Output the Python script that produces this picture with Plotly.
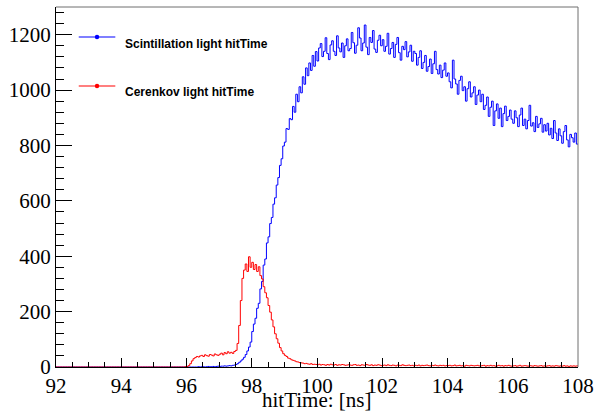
import numpy as np
import plotly.graph_objects as go

# Histogram binning (92..108 ns, 0.05 ns bins)
BIN_START = 92.0
BIN_WIDTH = 0.05

# Scintillation light hitTime counts, one row per ns (20 bins each)
scint_counts = [
    # 92
    0,0,0,0,0,0,0,0,0,0,0,0,0,0,0,0,0,0,0,0,
    # 93
    0,0,0,0,0,0,0,0,0,0,0,0,0,0,0,0,0,0,0,0,
    # 94
    0,0,0,0,0,0,0,0,0,0,0,0,0,0,0,0,0,0,0,0,
    # 95
    0,0,0,0,0,0,0,0,0,0,0,0,0,0,0,0,0,0,0,0,
    # 96
    0,0,0,0,0,0,0,1,0,1,1,0,1,2,1,1,2,1,2,3,
    # 97
    2,3,3,4,3,4,5,4,6,7,9,12,17,22,28,35,45,58,72,90,
    # 98
    128,155,176,212,230,282,309,368,390,448,470,518,540,588,611,657,684,728,752,798,
    # 99
    812,861,858,897,893,941,920,985,958,1012,990,1048,1021,1080,1052,1098,1071,1125,1086,1139,
    # 100
    1105,1152,1168,1121,1140,1189,1132,1110,1163,1178,1140,1125,1196,1152,1138,1170,1118,1160,1185,1142,
    # 101
    1150,1208,1171,1133,1162,1225,1188,1142,1170,1235,1155,1128,1190,1172,1215,1148,1136,1180,1198,1160,
    # 102
    1182,1140,1158,1205,1130,1150,1172,1118,1165,1190,1135,1108,1158,1146,1175,1120,1138,1162,1104,1140,
    # 103
    1132,1090,1118,1142,1078,1100,1125,1068,1085,1112,1060,1095,1140,1074,1058,1090,1045,1072,1098,1050,
    # 104
    1062,1030,1008,1108,1040,1022,985,1035,1050,998,1012,960,1005,1030,975,990,1012,948,982,1000,
    # 105
    958,985,930,945,975,905,938,960,872,925,950,898,935,868,915,942,890,905,928,895,
    # 106
    880,925,900,868,910,935,872,895,860,890,945,870,882,850,905,865,878,898,848,875,
    # 107
    852,880,838,862,825,890,845,818,860,835,808,850,872,820,795,840,828,812,845,805,
]

# Cerenkov light hitTime counts
cerenkov_counts = [
    # 92
    0,0,0,0,0,0,0,0,0,0,0,0,0,0,0,0,0,0,0,0,
    # 93
    0,0,0,0,0,0,0,0,0,0,0,0,0,0,0,0,0,0,0,0,
    # 94
    0,0,0,0,0,0,0,0,0,0,0,0,0,0,0,0,0,0,0,0,
    # 95
    0,0,0,0,0,0,0,0,0,0,0,0,0,0,0,0,0,0,0,1,
    # 96
    2,5,12,22,30,34,38,36,40,42,38,44,41,39,45,43,40,47,44,42,
    # 97
    46,50,44,52,48,55,50,53,49,56,60,85,150,240,320,350,372,345,398,360,
    # 98
    378,352,370,345,362,330,318,290,268,250,222,198,170,145,120,102,86,70,58,48,
    # 99
    42,38,32,30,26,24,22,19,18,16,15,14,12,13,11,10,12,9,10,9,
    # 100
    8,10,7,9,8,6,9,7,10,8,7,9,6,8,7,9,8,6,7,8,
    # 101
    7,6,8,9,6,7,5,8,7,6,9,7,6,8,5,7,6,8,7,5,
    # 102
    6,7,5,8,6,5,7,6,4,7,6,5,8,6,5,6,7,5,6,4,
    # 103
    6,5,7,4,6,5,6,7,5,4,6,5,7,5,4,6,5,6,4,5,
    # 104
    5,6,4,5,7,4,5,6,4,5,3,6,5,4,6,5,4,5,6,4,
    # 105
    4,5,6,3,5,4,6,4,5,3,4,6,4,5,3,5,4,6,4,3,
    # 106
    4,5,3,4,6,3,4,5,4,3,5,4,3,5,4,3,4,5,3,4,
    # 107
    3,4,5,3,4,3,5,4,3,4,3,5,3,4,2,4,3,4,3,4,
]

x_ticks = [92, 94, 96, 98, 100, 102, 104, 106, 108]
y_ticks = [0, 200, 400, 600, 800, 1000, 1200]
series_names = ["Scintillation light hitTime", "Cerenkov light hitTime"]
series_colors = ["#0000ff", "#ff0000"]

n_bins = len(scint_counts)
edges = BIN_START + BIN_WIDTH * np.arange(n_bins + 1)

def step_xy(counts):
    return edges, list(counts) + [counts[-1]]

fig = go.Figure()
for counts, name, color in zip([scint_counts, cerenkov_counts], series_names, series_colors):
    xs, ys = step_xy(counts)
    fig.add_trace(go.Scatter(x=xs, y=ys, mode="lines", line=dict(color=color, width=1, shape="hv"),
                             name=name, showlegend=False, hoverinfo="skip"))

W, H = 601, 415
L, R, T, B = 56, 17, 7, 48
pw, ph = W - L - R, H - T - B

def px(xp):
    return (xp - L) / pw

def py(yp):
    return (H - B - yp) / ph

SERIF = "Liberation Serif, Times New Roman, Tinos, DejaVu Serif, serif"
tickfont = dict(family=SERIF, size=21, color="black")

fig.update_layout(
    width=W, height=H,
    margin=dict(l=L, r=R, t=T, b=B),
    paper_bgcolor="white", plot_bgcolor="white",
    font=dict(family=SERIF),
    xaxis=dict(range=[92, 108], tickvals=x_ticks, ticks="inside", ticklen=9, tickwidth=1,
               tickcolor="black", showline=True, linecolor="black", linewidth=1,
               showgrid=False, zeroline=False, tickfont=tickfont,
               minor=dict(dtick=0.5, ticks="inside", ticklen=5, tickcolor="black", tickwidth=1, showgrid=False)),
    yaxis=dict(range=[0, 1300], tickvals=y_ticks, ticks="inside", ticklen=16, tickwidth=1,
               tickcolor="black", showline=True, linecolor="black", linewidth=1,
               showgrid=False, zeroline=False, tickfont=tickfont,
               minor=dict(dtick=40, ticks="inside", ticklen=8, tickcolor="black", tickwidth=1, showgrid=False)),
    showlegend=False,
)

# frame top/right (gray)
fig.add_shape(type="line", xref="paper", yref="paper", x0=0, x1=1, y0=1, y1=1,
              line=dict(color="#6e6e6e", width=1))
fig.add_shape(type="line", xref="paper", yref="paper", x0=1, x1=1, y0=0, y1=1,
              line=dict(color="#6e6e6e", width=1))

# x-axis title
fig.add_annotation(text="hitTime: [ns]", xref="paper", yref="paper", x=0.5, y=py(400),
                   xanchor="center", yanchor="middle", showarrow=False, font=tickfont)

# manual legend
legend_rows = [(37, 44), (86, 92)]
for (ly, ty), name, color in zip(legend_rows, series_names, series_colors):
    fig.add_shape(type="line", xref="paper", yref="paper", x0=px(79), x1=px(116), y0=py(ly), y1=py(ly),
                  line=dict(color=color, width=1.2))
    fig.add_shape(type="circle", xref="paper", yref="paper", xsizemode="pixel", ysizemode="pixel",
                  xanchor=px(97.5), yanchor=py(ly), x0=-2.2, x1=2.2, y0=-2.2, y1=2.2,
                  fillcolor=color, line=dict(color=color, width=0))
    fig.add_annotation(text="<b>" + name + "</b>", xref="paper", yref="paper", x=px(124), y=py(ty),
                       xanchor="left", yanchor="middle", showarrow=False,
                       font=dict(family="Liberation Sans, Arial, sans-serif", size=12, color="black"))

fig.write_html("out.html", config={"displayModeBar": False},
               post_script="document.body.style.margin='0';document.body.style.padding='0';")
